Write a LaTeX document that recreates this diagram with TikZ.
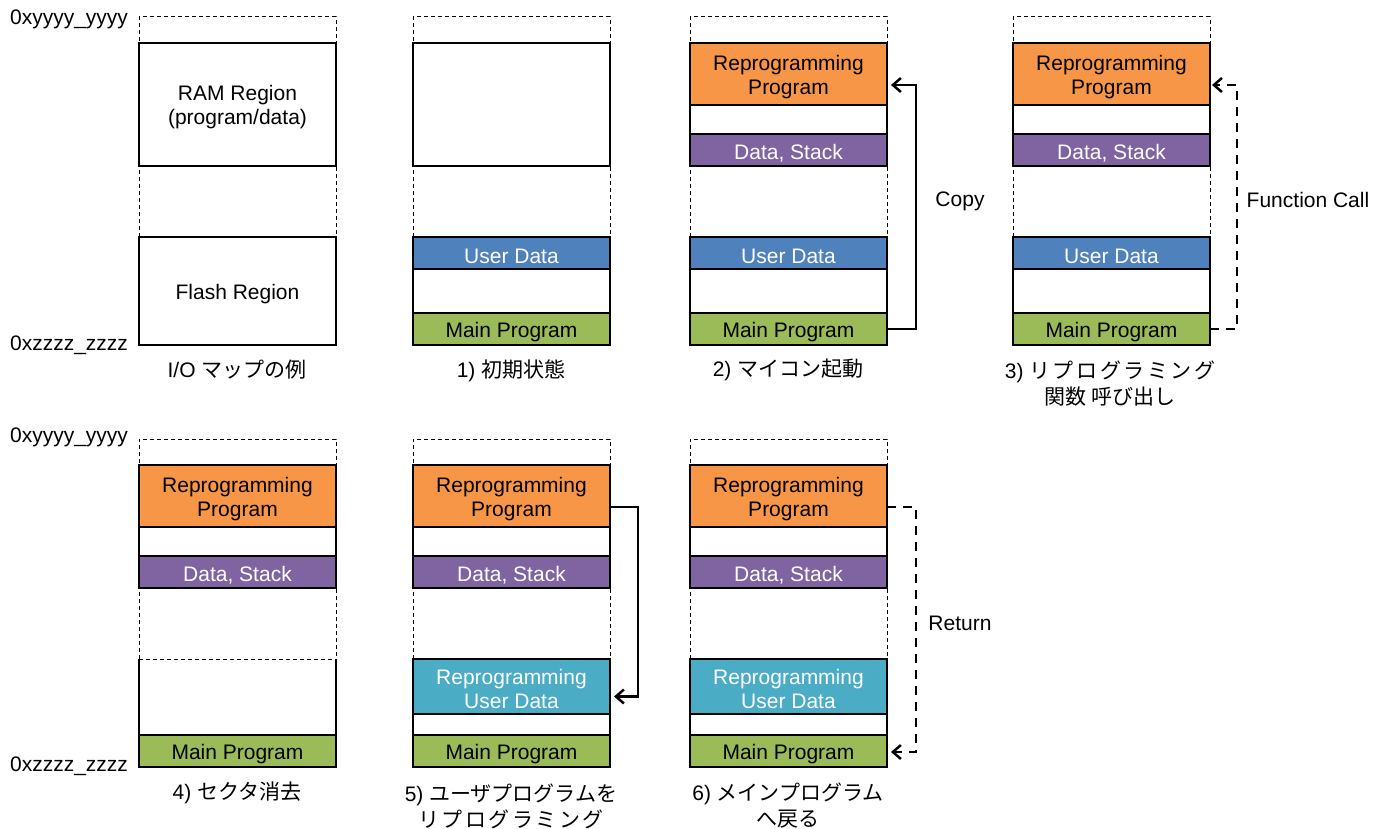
\documentclass[tikz,border=0pt]{standalone}
\usepackage{fontspec}
\setmainfont{Liberation Sans}
\newfontfamily\cjk{Noto Sans CJK JP}
\newfontfamily\cjkw[LetterSpace=12]{Noto Sans CJK JP}
\newcommand\tu{\rule{0pt}{21pt}}
\usetikzlibrary{arrows.meta}
\definecolor{orng}{HTML}{F79646}
\definecolor{purp}{HTML}{8064A2}
\definecolor{blu}{HTML}{4F81BD}
\definecolor{cyn}{HTML}{4BACC6}
\definecolor{grn}{HTML}{9BBB59}
\begin{document}
\begin{tikzpicture}[x=1pt,y=-1pt,
  every node/.style={font=\fontsize{21}{24}\selectfont, inner sep=0pt, outer sep=0pt},
  framebox/.style={draw=black, line width=1pt, dash pattern=on 4pt off 3pt, minimum width=197pt, minimum height=328pt, anchor=north west},
  blk/.style={draw=black, line width=1.2pt, minimum width=197pt, anchor=north west, align=center, fill=white, text=black},
  ramblk/.style={blk, minimum height=123pt},
  flblk/.style={blk, minimum height=108pt},
  rpblk/.style={blk, fill=orng, minimum height=62pt},
  dsblk/.style={blk, fill=purp, text=white, minimum height=32pt},
  udblk/.style={blk, fill=blu, text=white, minimum height=32pt},
  cyblk/.style={blk, fill=cyn, text=white, minimum height=55pt},
  mpblk/.style={blk, fill=grn, minimum height=32pt},
  addr/.style={anchor=east},
  captxt/.style={align=center, font=\fontsize{21}{26}\selectfont},
  lbl/.style={},
  arr/.style={line width=2.5pt, -{Straight Barb[length=8pt,width=14pt]}, shorten >=4pt},
  darr/.style={arr, dash pattern=on 9pt off 7pt},
  thindash/.style={draw=black, line width=1pt, dash pattern=on 4pt off 3pt}
]
\useasboundingbox (0,0) rectangle (1385,829);

% ---------- top row ----------
\node[addr] (ay1) at (128,19) {0xyyyy\_yyyy};
\node[addr] (az1) at (128,345) {0xzzzz\_zzzz};

% column 1
\node[framebox] (f1) at (139,17) {};
\node[ramblk] (ram1) at (139,43) {\tu RAM Region\\(program/data)};
\node[flblk] (fl1) at (139,237) {\tu Flash Region};
\node[captxt] (c1) at (237,370) {I/O {\cjk マップの例}};

% column 2
\node[framebox] (f2) at (413,17) {};
\node[ramblk] (ram2) at (413,43) {};
\node[flblk] (fl2) at (413,237) {};
\node[udblk] (ud2) at (413,237) {\tu User Data};
\node[mpblk] (mp2) at (413,313) {\tu Main Program};
\node[captxt] (c2) at (511,371) {1) {\cjk 初期状態}};

% column 3
\node[framebox] (f3) at (690,17) {};
\node[ramblk] (ram3) at (690,43) {};
\node[rpblk] (rp3) at (690,43) {\tu Reprogramming\\Program};
\node[dsblk] (ds3) at (690,134) {\tu Data, Stack};
\node[flblk] (fl3) at (690,237) {};
\node[udblk] (ud3) at (690,237) {\tu User Data};
\node[mpblk] (mp3) at (690,313) {\tu Main Program};
\node[captxt] (c3) at (788,370) {2) {\cjk マイコン起動}};
\draw[arr] (mp3.east) -- ++(29,0) |- ([yshift=-11pt]rp3.east);
\node[lbl] (l3) at (960,201) {Copy};

% column 4
\node[framebox] (f4) at (1013,17) {};
\node[ramblk] (ram4) at (1013,43) {};
\node[rpblk] (rp4) at (1013,43) {\tu Reprogramming\\Program};
\node[dsblk] (ds4) at (1013,134) {\tu Data, Stack};
\node[flblk] (fl4) at (1013,237) {};
\node[udblk] (ud4) at (1013,237) {\tu User Data};
\node[mpblk] (mp4) at (1013,313) {\tu Main Program};
\node[captxt] (c4) at (1110,384) {3) {\cjkw リプログラミング}\\{\cjk 関数 呼び出し}};
\draw[darr, shorten >=2pt] (mp4.east) -- ++(27,0) |- ([yshift=-11pt]rp4.east);
\node[lbl] (l4) at (1308,200) {Function Call};

% ---------- bottom row ----------
\node[addr] (ay2) at (128,437) {0xyyyy\_yyyy};
\node[addr] (az2) at (128,766) {0xzzzz\_zzzz};

% column 1 (sector erase)
\node[framebox] (f5) at (139,439) {};
\node[ramblk] (ram5) at (139,465) {};
\node[rpblk] (rp5) at (139,465) {\tu Reprogramming\\Program};
\node[dsblk] (ds5) at (139,556) {\tu Data, Stack};
\node[blk, draw=none, minimum height=108pt] (fl5) at (139,659) {};
\draw[line width=1.2pt] (fl5.north west) -- (fl5.south west) -- (fl5.south east) -- (fl5.north east);
\draw[thindash] (fl5.north west) -- (fl5.north east);
\node[mpblk] (mp5) at (139,735) {\tu Main Program};
\node[captxt] (c5) at (237,793) {4) {\cjk セクタ消去}};

% column 2
\node[framebox] (f6) at (413,439) {};
\node[ramblk] (ram6) at (413,465) {};
\node[rpblk] (rp6) at (413,465) {\tu Reprogramming\\Program};
\node[dsblk] (ds6) at (413,556) {\tu Data, Stack};
\node[flblk] (fl6) at (413,659) {};
\node[cyblk] (cy6) at (413,659) {\tu Reprogramming\\User Data};
\node[mpblk] (mp6) at (413,735) {\tu Main Program};
\node[captxt] (c6) at (511,806) {5) {\cjk ユーザプログラムを}\\{\cjkw リプログラミング}};
\draw[arr] ([yshift=-11pt]rp6.east) -- ++(28,0) |- ([yshift=-10pt]cy6.east);

% column 3
\node[framebox] (f7) at (690,439) {};
\node[ramblk] (ram7) at (690,465) {};
\node[rpblk] (rp7) at (690,465) {\tu Reprogramming\\Program};
\node[dsblk] (ds7) at (690,556) {\tu Data, Stack};
\node[flblk] (fl7) at (690,659) {};
\node[cyblk] (cy7) at (690,659) {\tu Reprogramming\\User Data};
\node[mpblk] (mp7) at (690,735) {\tu Main Program};
\node[captxt] (c7) at (788,806) {6) {\cjk メインプログラム}\\{\cjk へ戻る}};
\draw[darr] ([yshift=-11pt]rp7.east) -- ++(29,0) |- ([yshift=-1pt]mp7.east);
\node[lbl] (l7) at (960,623) {Return};
\end{tikzpicture}
\end{document}
